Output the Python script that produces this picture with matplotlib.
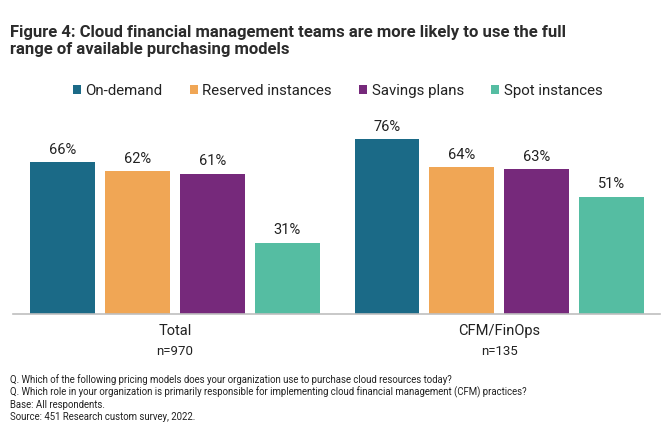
import numpy as np
import matplotlib
matplotlib.use('Agg')
from matplotlib import pyplot as plt

plt.rcParams['font.family'] = ['Roboto', 'DejaVu Sans']

groups = ['Total', 'CFM/FinOps']
group_n = ['n=970', 'n=135']
series = ['On-demand', 'Reserved instances', 'Savings plans', 'Spot instances']
values = [
    [66, 76],  # On-demand
    [62, 64],  # Reserved instances
    [61, 63],  # Savings plans
    [31, 51],  # Spot instances
]
colors = ['#1b6a87', '#f0a655', '#76297b', '#55bda2']

title = ('Figure 4: Cloud financial management teams are more likely to use the full\n'
         'range of available purchasing models')
notes = [
    'Q. Which of the following pricing models does your organization use to purchase cloud resources today?',
    'Q. Which role in your organization is primarily responsible for implementing cloud financial management (CFM) practices?',
    'Base: All respondents.',
    'Source: 451 Research custom survey, 2022.',
]

W, H = 662, 423
fig = plt.figure(figsize=(W / 100, H / 100), dpi=100)
# axes: x 13..660 px, y 110..314 px (from top)
ax = fig.add_axes([13 / W, 1 - 314 / H, (660 - 13) / W, (314 - 110) / H])

x = np.arange(len(groups))
pitch = 0.231
width = 0.2
for i, (name, vals, col) in enumerate(zip(series, values, colors)):
    pos = x + (i - 1.5) * pitch
    ax.bar(pos, vals, width=width, color=col, label=name, zorder=2)
    for p, v in zip(pos, vals):
        ax.text(p, v + 2.3, '{}%'.format(v), ha='center', va='bottom',
                fontsize=10.5, color='#222222')

ax.set_xlim(-0.499, 1.495)
ax.set_ylim(0, 88.7)
ax.set_yticks([])
ax.set_xticks([])
for s in ['top', 'right', 'left']:
    ax.spines[s].set_visible(False)
ax.spines['bottom'].set_color('#bfbfbf')
ax.spines['bottom'].set_linewidth(1.2)

for xi, g, n in zip(x, groups, group_n):
    ax.text(xi, -4.3, g, ha='center', va='top', fontsize=10.5, color='#222222')
    ax.text(xi, -13.3, n, ha='center', va='top', fontsize=9.5, color='#222222')

fig.text(10 / W, 1 - 25 / H, title, ha='left', va='top', fontsize=12,
         fontweight='bold', color='#2b2b2b', linespacing=1.2)

leg = fig.legend(loc='center', bbox_to_anchor=(0.51, 1 - 91 / H), ncol=4,
                 frameon=False, fontsize=10.8, handlelength=0.55, handleheight=0.55,
                 handletextpad=0.3, columnspacing=1.8)
for t in leg.get_texts():
    t.set_color('#222222')

for k, line in enumerate(notes):
    fig.text(10 / W, 1 - (380 + 12.3 * k) / H, line, ha='left', va='center',
             fontsize=6.9, color='#222222')

fig.savefig('out.png', dpi=100)
